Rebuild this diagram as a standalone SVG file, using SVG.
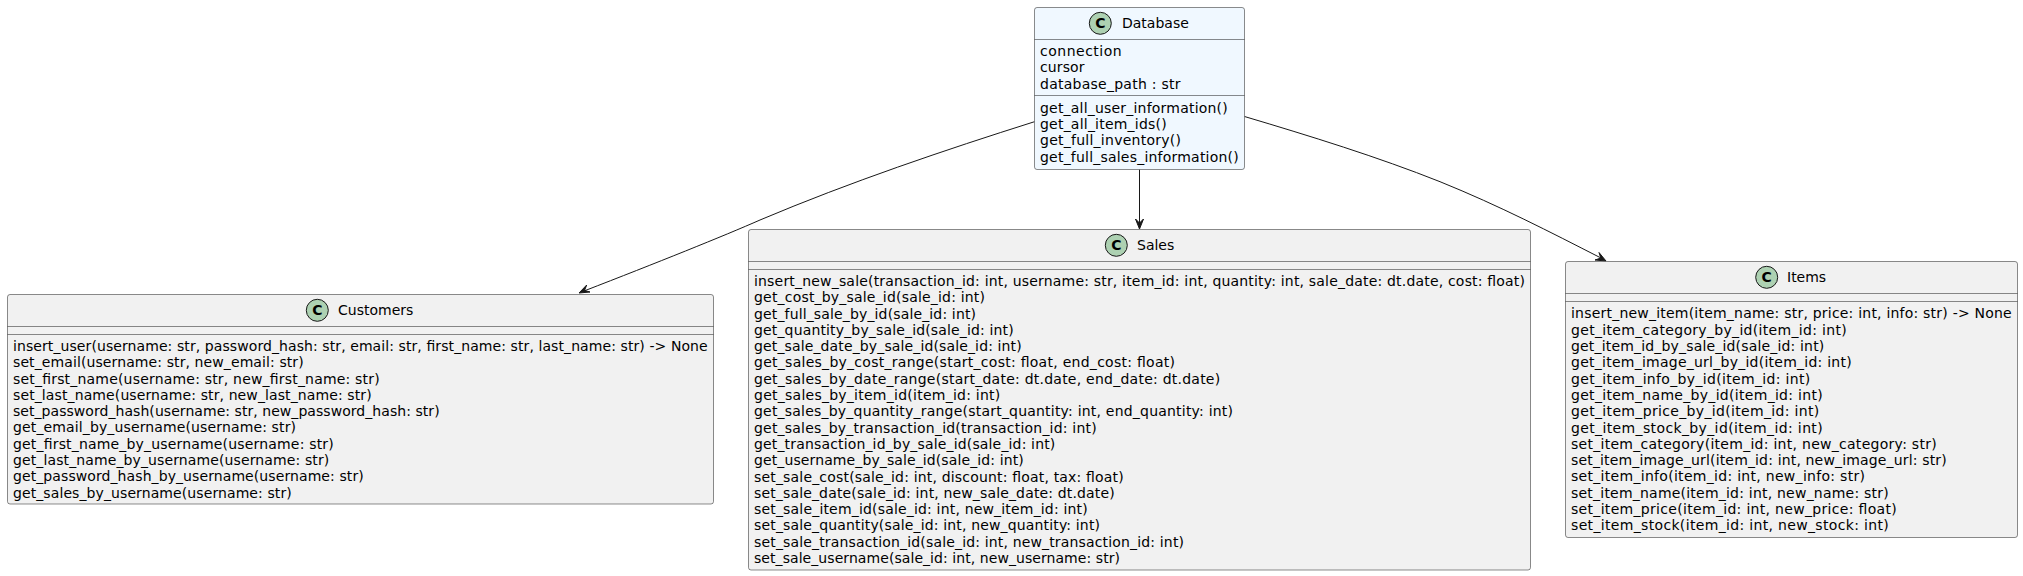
<svg xmlns="http://www.w3.org/2000/svg" width="2023" height="576" viewBox="0 0 2023 576">
<style>
.box{fill:#F1F1F1;stroke:#181818;stroke-width:.5}
.db{fill:#F0F8FF}
.sep{stroke:#181818;stroke-width:.5}
text{font-family:"DejaVu Sans",sans-serif;font-size:14px;fill:#000}
.c{fill:#ADD1B2;stroke:#181818;stroke-width:1}
.cl{font-weight:bold;font-size:14px;text-anchor:middle}
.conn{fill:none;stroke:#181818;stroke-width:1}
.head{fill:#181818;stroke:#181818;stroke-width:1}
</style>
<g id="connectors">
<path class="conn" d="M1034.5,121.7 C945,150 850,182 760,220 C725,235.5 655,263.5 584,291"/>
<polygon class="head" points="579,293 590,292 584.5,290.5 586.7,285"/>
<path class="conn" d="M1139.5,169.5 L1139.5,223"/>
<polygon class="head" points="1139.5,229 1135.5,219 1139.5,223 1143.5,219"/>
<path class="conn" d="M1244.5,116.5 C1310,136 1378,157 1440,181.7 C1500,206 1550,232 1601,258"/>
<polygon class="head" points="1606,261 1599,252.5 1600.8,258 1595,260"/>
</g>
<g id="Database">
<rect class="box db" x="1034.5" y="7.5" width="210" height="162" rx="2.5"/>
<circle class="c" cx="1100.3" cy="23.3" r="11"/><text class="cl" x="1100.3" y="28">C</text>
<text x="1122" y="28">Database</text>
<line class="sep" x1="1034.5" x2="1244.5" y1="39.5" y2="39.5"/>
<text x="1040" y="56" textLength="81.7">connection</text><text x="1040" y="72" textLength="44.5">cursor</text><text x="1040" y="89" textLength="140.5">database_path : str</text>
<line class="sep" x1="1034.5" x2="1244.5" y1="95.5" y2="95.5"/>
<text x="1040" y="113" textLength="187.7">get_all_user_information()</text><text x="1040" y="129" textLength="126.7">get_all_item_ids()</text><text x="1040" y="145" textLength="141">get_full_inventory()</text><text x="1040" y="162" textLength="198.7">get_full_sales_information()</text>
</g>
<g id="Customers">
<rect class="box" x="7.5" y="294.5" width="706" height="209.5" rx="2.5"/>
<circle class="c" cx="317.3" cy="310.3" r="11"/><text class="cl" x="317.3" y="315">C</text>
<text x="338" y="315">Customers</text>
<line class="sep" x1="7.5" x2="713.5" y1="326.5" y2="326.5"/>
<line class="sep" x1="7.5" x2="713.5" y1="334.5" y2="334.5"/>
<text x="13" y="351" textLength="694.7">insert_user(username: str, password_hash: str, email: str, first_name: str, last_name: str) -&gt; None</text>
<text x="13" y="367" textLength="290.7">set_email(username: str, new_email: str)</text>
<text x="13" y="384" textLength="366.7">set_first_name(username: str, new_first_name: str)</text>
<text x="13" y="400" textLength="358.7">set_last_name(username: str, new_last_name: str)</text>
<text x="13" y="416" textLength="426.6">set_password_hash(username: str, new_password_hash: str)</text>
<text x="13" y="432" textLength="283">get_email_by_username(username: str)</text>
<text x="13" y="449" textLength="320.7">get_first_name_by_username(username: str)</text>
<text x="13" y="465" textLength="316.3">get_last_name_by_username(username: str)</text>
<text x="13" y="481" textLength="350.7">get_password_hash_by_username(username: str)</text>
<text x="13" y="498" textLength="278.7">get_sales_by_username(username: str)</text>
</g>
<g id="Sales">
<rect class="box" x="748.5" y="229.5" width="782" height="340.5" rx="2.5"/>
<circle class="c" cx="1116.3" cy="245.3" r="11"/><text class="cl" x="1116.3" y="250">C</text>
<text x="1137" y="250">Sales</text>
<line class="sep" x1="748.5" x2="1530.5" y1="261.5" y2="261.5"/>
<line class="sep" x1="748.5" x2="1530.5" y1="269.5" y2="269.5"/>
<text x="754" y="286" textLength="771">insert_new_sale(transaction_id: int, username: str, item_id: int, quantity: int, sale_date: dt.date, cost: float)</text>
<text x="754" y="302" textLength="231">get_cost_by_sale_id(sale_id: int)</text>
<text x="754" y="319" textLength="222">get_full_sale_by_id(sale_id: int)</text>
<text x="754" y="335" textLength="259.7">get_quantity_by_sale_id(sale_id: int)</text>
<text x="754" y="351" textLength="267.7">get_sale_date_by_sale_id(sale_id: int)</text>
<text x="754" y="367" textLength="421">get_sales_by_cost_range(start_cost: float, end_cost: float)</text>
<text x="754" y="384" textLength="466.2">get_sales_by_date_range(start_date: dt.date, end_date: dt.date)</text>
<text x="754" y="400" textLength="246.3">get_sales_by_item_id(item_id: int)</text>
<text x="754" y="416" textLength="479">get_sales_by_quantity_range(start_quantity: int, end_quantity: int)</text>
<text x="754" y="433" textLength="342.7">get_sales_by_transaction_id(transaction_id: int)</text>
<text x="754" y="449" textLength="301.3">get_transaction_id_by_sale_id(sale_id: int)</text>
<text x="754" y="465" textLength="269.7">get_username_by_sale_id(sale_id: int)</text>
<text x="754" y="482" textLength="369.7">set_sale_cost(sale_id: int, discount: float, tax: float)</text>
<text x="754" y="498" textLength="360.7">set_sale_date(sale_id: int, new_sale_date: dt.date)</text>
<text x="754" y="514" textLength="333.7">set_sale_item_id(sale_id: int, new_item_id: int)</text>
<text x="754" y="530" textLength="346">set_sale_quantity(sale_id: int, new_quantity: int)</text>
<text x="754" y="547" textLength="430">set_sale_transaction_id(sale_id: int, new_transaction_id: int)</text>
<text x="754" y="563" textLength="366">set_sale_username(sale_id: int, new_username: str)</text>
</g>
<g id="Items">
<rect class="box" x="1565.5" y="261.5" width="452" height="276" rx="2.5"/>
<circle class="c" cx="1766.7" cy="277.3" r="11"/><text class="cl" x="1766.7" y="282">C</text>
<text x="1787" y="282">Items</text>
<line class="sep" x1="1565.5" x2="2017.5" y1="293.5" y2="293.5"/>
<line class="sep" x1="1565.5" x2="2017.5" y1="301.5" y2="301.5"/>
<text x="1571" y="318" textLength="440.7">insert_new_item(item_name: str, price: int, info: str) -&gt; None</text>
<text x="1571" y="335" textLength="275.7">get_item_category_by_id(item_id: int)</text>
<text x="1571" y="351" textLength="253.3">get_item_id_by_sale_id(sale_id: int)</text>
<text x="1571" y="367" textLength="280.7">get_item_image_url_by_id(item_id: int)</text>
<text x="1571" y="384" textLength="239.3">get_item_info_by_id(item_id: int)</text>
<text x="1571" y="400" textLength="251.7">get_item_name_by_id(item_id: int)</text>
<text x="1571" y="416" textLength="248.3">get_item_price_by_id(item_id: int)</text>
<text x="1571" y="433" textLength="251.7">get_item_stock_by_id(item_id: int)</text>
<text x="1571" y="449" textLength="365.7">set_item_category(item_id: int, new_category: str)</text>
<text x="1571" y="465" textLength="375.7">set_item_image_url(item_id: int, new_image_url: str)</text>
<text x="1571" y="481" textLength="294">set_item_info(item_id: int, new_info: str)</text>
<text x="1571" y="498" textLength="317.7">set_item_name(item_id: int, new_name: str)</text>
<text x="1571" y="514" textLength="325.7">set_item_price(item_id: int, new_price: float)</text>
<text x="1571" y="530" textLength="317.7">set_item_stock(item_id: int, new_stock: int)</text>
</g>
</svg>
